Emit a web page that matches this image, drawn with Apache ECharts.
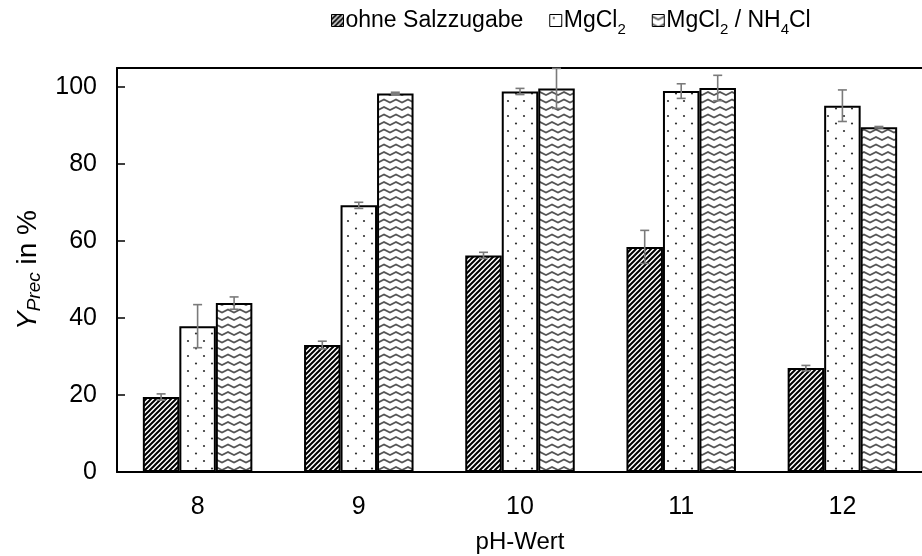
<!DOCTYPE html>
<html>
<head>
<meta charset="utf-8">
<script src="https://cdn.jsdelivr.net/npm/echarts@6/dist/echarts.min.js"></script>
<style>
  html, body { margin: 0; padding: 0; background: #fff; }
  #chart { width: 922px; height: 556px; }
</style>
</head>
<body>
<div id="chart"></div>
<script>
// pH values on the category axis
const categories = ['8', '9', '10', '11', '12'];
const seriesNames = ['ohne Salzzugabe', 'MgCl2', 'MgCl2 / NH4Cl'];

// precipitation yield Y_Prec in % and standard deviations
const ohneSalz      = [19.5, 33.0, 56.3, 58.5, 27.0];
const ohneSalzErr   = [0.8, 1.0, 0.8, 4.3, 0.7];
const mgcl2         = [37.9, 69.3, 98.9, 99.0, 95.2];
const mgcl2Err      = [5.6, 0.8, 0.8, 1.9, 4.1];
const mgcl2Nh4      = [43.9, 98.4, 99.7, 99.8, 89.6];
const mgcl2Nh4Err   = [1.6, 0.3, 5.2, 3.3, 0.2];

const yMin = 0, yMax = 105, yStep = 20;

const BAR_W = 36.5;
const FONT = 'Liberation Sans, Arial, sans-serif';

// --- fill patterns -------------------------------------------------------
function makeCanvas(w, h) {
  const c = document.createElement('canvas');
  c.width = w; c.height = h;
  const ctx = c.getContext('2d');
  ctx.fillStyle = '#fff';
  ctx.fillRect(0, 0, w, h);
  return [c, ctx];
}

function hatchPattern() {
  const s = 5;
  const [c, ctx] = makeCanvas(s, s);
  ctx.strokeStyle = '#000';
  ctx.lineWidth = 2;
  ctx.beginPath();
  for (let o = -s; o <= s; o += s) {
    ctx.moveTo(o - 1, s + 1);
    ctx.lineTo(o + s + 1, -1);
  }
  ctx.stroke();
  return c;
}

function dotPattern() {
  const [c, ctx] = makeCanvas(16, 15);
  ctx.fillStyle = '#333';
  [[4, 3.5], [12, 11]].forEach(([x, y]) => {
    ctx.beginPath();
    ctx.arc(x, y, 1.1, 0, Math.PI * 2);
    ctx.fill();
  });
  return c;
}

function wavePattern() {
  const h = 7.5;
  const [c, ctx] = makeCanvas(12, 15);
  ctx.strokeStyle = '#555';
  ctx.lineWidth = 1.6;
  for (let r = 0; r < 2; r++) {
    const y0 = 2 + r * h;
    ctx.beginPath();
    ctx.moveTo(-3, y0 + 3);
    ctx.lineTo(0, y0);
    ctx.lineTo(6, y0 + 3);
    ctx.lineTo(12, y0);
    ctx.lineTo(15, y0 + 1.5);
    ctx.stroke();
  }
  return c;
}

const patterns = [hatchPattern(), dotPattern(), wavePattern()];

// --- series --------------------------------------------------------------
function barSeries(name, values, k) {
  return {
    name: name,
    type: 'bar',
    data: values,
    barWidth: BAR_W,
    barGap: '0%',
    z: 2,
    itemStyle: {
      color: { image: patterns[k], repeat: 'repeat' },
      borderColor: '#000',
      borderWidth: 2
    },
    emphasis: { disabled: true }
  };
}

function errorSeries(values, errs, k) {
  return {
    type: 'custom',
    z: 10,
    silent: true,
    data: values.map((v, i) => [i, v, errs[i]]),
    encode: { x: 0, y: 1 },
    renderItem: function (params, api) {
      const idx = api.value(0);
      const v = api.value(1);
      const e = api.value(2);
      const x = api.coord([idx, v])[0] + (k - 1) * BAR_W;
      const yHi = api.coord([idx, v + e])[1];
      const yLo = api.coord([idx, v - e])[1];
      const c = 4.5;
      const style = { stroke: '#7a7a7a', lineWidth: 1.6 };
      return {
        type: 'group',
        children: [
          { type: 'line', shape: { x1: x, y1: yHi, x2: x, y2: yLo }, style: style },
          { type: 'line', shape: { x1: x - c, y1: yHi, x2: x + c, y2: yHi }, style: style },
          { type: 'line', shape: { x1: x - c, y1: yLo, x2: x + c, y2: yLo }, style: style }
        ]
      };
    }
  };
}

const legendLabels = {
  'ohne Salzzugabe': 'ohne Salzzugabe',
  'MgCl2': 'MgCl{sub|2}',
  'MgCl2 / NH4Cl': 'MgCl{sub|2} / NH{sub|4}Cl'
};

const chart = echarts.init(document.getElementById('chart'), null, { renderer: 'canvas' });

chart.setOption({
  animation: false,
  backgroundColor: '#fff',
  textStyle: { fontFamily: FONT },
  legend: {
    top: 4,
    left: 326,
    itemWidth: 12,
    itemHeight: 12,
    itemGap: 26,
    icon: 'rect',
    data: seriesNames,
    formatter: n => legendLabels[n],
    textStyle: {
      fontFamily: FONT,
      fontSize: 23,
      color: '#000',
      padding: [0, 0, 0, -3],
      rich: {
        sub: { fontFamily: FONT, fontSize: 15, color: '#000', verticalAlign: 'bottom', lineHeight: 34, padding: [13, 0, 0, 0] }
      }
    },
    itemStyle: { borderColor: '#000', borderWidth: 1 }
  },
  grid: { left: 117, top: 68, bottom: 84, width: 806, outerBoundsMode: 'none', containLabel: false },
  xAxis: [
    {
      type: 'category',
      data: categories,
      position: 'bottom',
      axisLine: { lineStyle: { color: '#000', width: 2 } },
      axisTick: { inside: true, length: 7, lineStyle: { color: '#000', width: 1.5 } },
      axisLabel: { color: '#000', fontSize: 25, margin: 23, fontFamily: FONT },
      name: 'pH-Wert',
      nameLocation: 'middle',
      nameGap: 58,
      nameTextStyle: { color: '#000', fontSize: 24, fontFamily: FONT }
    },
    {
      type: 'category',
      data: categories,
      position: 'top',
      axisLine: { lineStyle: { color: '#000', width: 2 } },
      axisTick: { inside: true, length: 8, lineStyle: { color: '#000', width: 1.5 } },
      axisLabel: { show: false }
    }
  ],
  yAxis: {
    type: 'value',
    min: yMin,
    max: yMax,
    interval: yStep,
    axisLine: { show: true, lineStyle: { color: '#000', width: 2 } },
    axisTick: { show: true, inside: true, length: 8, lineStyle: { color: '#000', width: 1.5 } },
    axisLabel: { color: '#000', fontSize: 25, margin: 20, fontFamily: FONT, showMaxLabel: false },
    splitLine: { show: false },
    name: '{i|Y}{sub|Prec}{n| in %}',
    nameLocation: 'middle',
    nameRotate: 90,
    nameGap: 70,
    nameTextStyle: {
      color: '#000',
      fontFamily: FONT,
      rich: {
        i: { fontSize: 28, fontStyle: 'italic', fontFamily: FONT, color: '#000' },
        sub: { fontSize: 19, fontStyle: 'italic', fontFamily: FONT, color: '#000', verticalAlign: 'bottom', padding: [13, 0, 0, 0] },
        n: { fontSize: 28, fontFamily: FONT, color: '#000' }
      }
    }
  },
  series: [
    barSeries(seriesNames[0], ohneSalz, 0),
    barSeries(seriesNames[1], mgcl2, 1),
    barSeries(seriesNames[2], mgcl2Nh4, 2),
    errorSeries(ohneSalz, ohneSalzErr, 0),
    errorSeries(mgcl2, mgcl2Err, 1),
    errorSeries(mgcl2Nh4, mgcl2Nh4Err, 2)
  ]
});
</script>
</body>
</html>
